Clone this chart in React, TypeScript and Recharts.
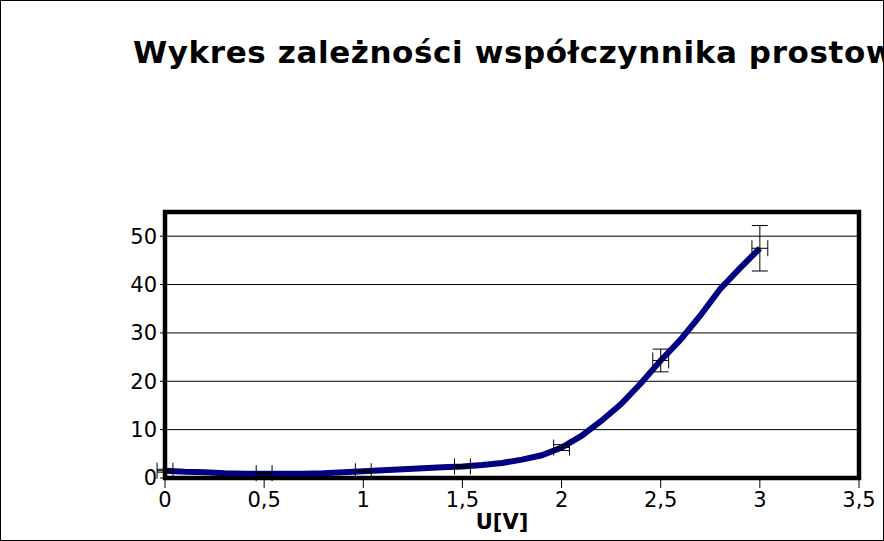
import {
  ComposedChart,
  Line,
  Scatter,
  ErrorBar,
  XAxis,
  YAxis,
  CartesianGrid,
  ReferenceArea,
} from "recharts";

// measured curve U[V] -> coefficient
const curveU = [0, 0.1, 0.2, 0.3, 0.4, 0.5, 0.6, 0.7, 0.8, 0.9, 1.0, 1.1, 1.2, 1.3, 1.4, 1.5, 1.6, 1.7, 1.8, 1.9, 2.0, 2.1, 2.2, 2.3, 2.4, 2.5, 2.6, 2.7, 2.8, 2.9, 3.0];
const curveK = [1.5, 1.3, 1.2, 1.0, 0.9, 0.9, 0.9, 0.9, 1.0, 1.2, 1.4, 1.6, 1.8, 2.0, 2.2, 2.4, 2.7, 3.1, 3.8, 4.7, 6.3, 8.7, 11.8, 15.3, 19.6, 24.3, 28.6, 33.6, 39.1, 43.4, 47.5];

// points with error bars
const errU = [0, 0.5, 1, 1.5, 2, 2.5, 3];
const errK = [1.5, 1.0, 1.4, 2.4, 6.3, 24.3, 47.5];
const errDU = [0.04, 0.04, 0.04, 0.04, 0.04, 0.04, 0.04];
const errDK = [0.3, 0.2, 0.2, 0.3, 0.6, 2.35, 4.7];

const xTicks = [0, 0.5, 1, 1.5, 2, 2.5, 3, 3.5];
const yTicks = [0, 10, 20, 30, 40, 50];

const TITLE = "Wykres zależności współczynnika prostowania od napięcia";
const FONT = "'DejaVu Sans', sans-serif";

const curveData = curveU.map((u, i) => ({ x: u, y: curveK[i] }));
const errData = errU.map((u, i) => ({ x: u, y: errK[i], ex: errDU[i], ey: errDK[i] }));

export default function App() {
  return (
    <div
      style={{
        position: "absolute",
        left: 0,
        top: 0,
        width: 884,
        height: 541,
        overflow: "hidden",
        background: "#fff",
        fontFamily: FONT,
      }}
    >
      <div
        style={{
          position: "absolute",
          left: 133,
          top: 37,
          fontSize: 31,
          lineHeight: "31px",
          letterSpacing: "0.6px",
          fontWeight: "bold",
          whiteSpace: "nowrap",
          color: "#000",
        }}
      >
        {TITLE}
      </div>
      <ComposedChart
        width={884}
        height={541}
        margin={{ top: 212, right: 25, bottom: 0, left: 0 }}
        style={{ position: "absolute", left: 0, top: 0 }}
      >
        <CartesianGrid horizontal vertical={false} stroke="#000" strokeWidth={1} />
        <XAxis
          type="number"
          dataKey="x"
          domain={[0, 3.5]}
          allowDataOverflow
          ticks={xTicks}
          height={63}
          tickFormatter={(v) => String(v).replace(".", ",")}
          tick={{ fontSize: 21, fill: "#000", fontFamily: FONT }}
          axisLine={{ stroke: "#000", strokeWidth: 4 }}
          tickLine={{ stroke: "#000" }}
          tickSize={10}
          tickMargin={4}
          label={{
            value: "U[V]",
            position: "insideBottom",
            offset: 12,
            dx: -10,
            style: { fontSize: 21, fontWeight: "bold", fill: "#000", fontFamily: FONT },
          }}
        />
        <YAxis
          type="number"
          domain={[0, 55]}
          allowDataOverflow
          ticks={yTicks}
          width={165}
          tick={{ fontSize: 21, fill: "#000", fontFamily: FONT }}
          axisLine={{ stroke: "#000", strokeWidth: 4 }}
          tickLine={{ stroke: "#000" }}
          tickSize={5}
          tickMargin={3}
        />
        <Line
          data={curveData}
          dataKey="y"
          type="linear"
          stroke="#000080"
          strokeWidth={6}
          dot={false}
          isAnimationActive={false}
        />
        <Scatter data={errData} dataKey="y" shape={() => <g />} isAnimationActive={false}>
          <ErrorBar dataKey="ey" direction="y" width={8} stroke="#000" strokeWidth={1} />
          <ErrorBar dataKey="ex" direction="x" width={8} stroke="#000" strokeWidth={1} />
        </Scatter>
        <ReferenceArea x1={0} x2={3.5} y1={0} y2={55} fill="none" stroke="#000" strokeWidth={4.5} />
      </ComposedChart>
      <div
        style={{
          position: "absolute",
          left: 0,
          top: 0,
          width: 884,
          height: 541,
          boxSizing: "border-box",
          border: "1px solid #000",
          pointerEvents: "none",
        }}
      />
    </div>
  );
}
